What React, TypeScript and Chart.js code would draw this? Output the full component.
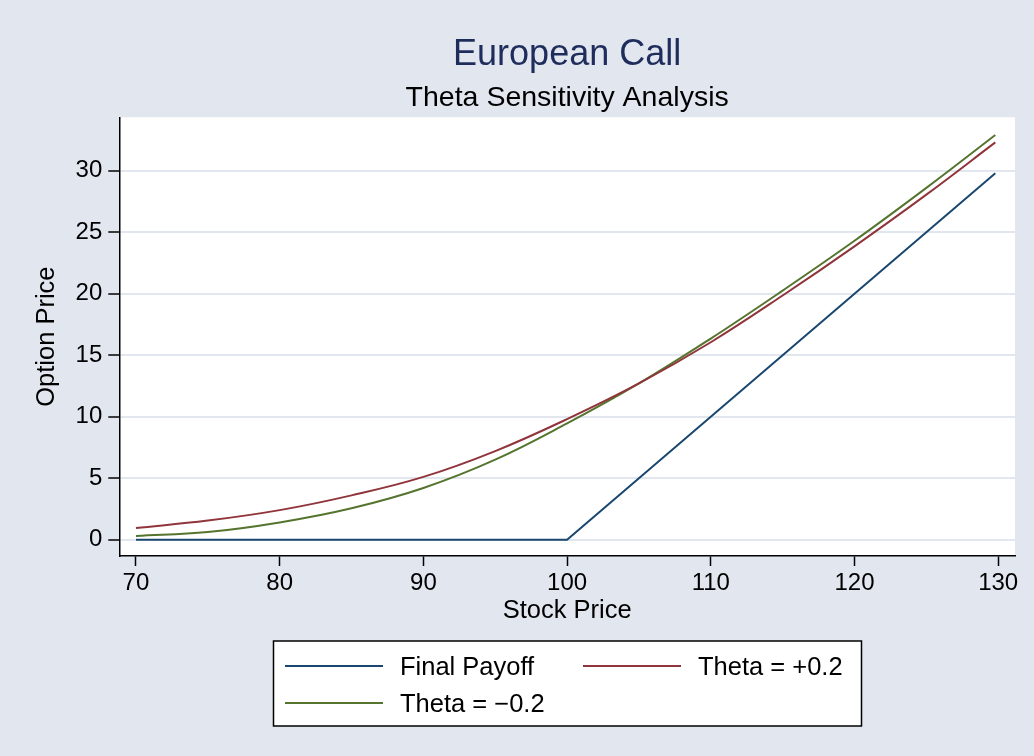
import React, { useEffect, useRef } from "react";
import { Chart, registerables } from "chart.js";

Chart.register(...registerables);

const stockPrices = [70, 75, 80, 85, 90, 95, 100, 105, 110, 115, 120, 125, 129.8];
const finalPayoff = [0, 0, 0, 0, 0, 0, 0, 5, 10, 15, 20, 25, 29.8];
const thetaPlus = [0.95, 1.55, 2.4, 3.6, 5.1, 7.2, 9.8, 12.7, 16.05, 19.85, 23.85, 28.05, 32.3];
const thetaMinus = [0.3, 0.62, 1.4, 2.55, 4.2, 6.5, 9.45, 12.7, 16.35, 20.25, 24.3, 28.6, 32.9];
const xTicks = [70, 80, 90, 100, 110, 120, 130];
const yTicks = [0, 5, 10, 15, 20, 25, 30];
const seriesLabels = ["Final Payoff", "Theta = +0.2", "Theta = \u22120.2"];
const titleText = "European Call";
const subtitleText = "Theta Sensitivity Analysis";
const xTitle = "Stock Price";
const yTitle = "Option Price";

const FONT = "'Liberation Sans', Arial, Helvetica, sans-serif";
const BG = "#e1e6ef";
const NAVY = "#1a476f";
const MAROON = "#90353b";
const GREEN = "#55752f";

const decorPlugin = {
  id: "decor",
  beforeDraw(chart: any) {
    const { ctx, width, height, chartArea } = chart;
    ctx.save();
    ctx.fillStyle = BG;
    ctx.fillRect(0, 0, width, height);
    ctx.fillStyle = "#ffffff";
    ctx.fillRect(chartArea.left, chartArea.top, chartArea.right - chartArea.left, chartArea.bottom - chartArea.top);
    ctx.restore();
  },
  afterDraw(chart: any) {
    const { ctx, chartArea } = chart;
    const cx = (chartArea.left + chartArea.right) / 2;
    ctx.save();
    ctx.textAlign = "center";
    ctx.textBaseline = "alphabetic";
    ctx.fillStyle = "#1e2d5c";
    ctx.font = `36px ${FONT}`;
    ctx.fillText(titleText, cx, 65);
    ctx.fillStyle = "#000000";
    ctx.font = `28.5px ${FONT}`;
    ctx.fillText(subtitleText, cx, 105.5);

    // legend box
    const bx = 273.5, by = 641, bw = 588, bh = 85;
    ctx.fillStyle = "#ffffff";
    ctx.fillRect(bx, by, bw, bh);
    ctx.strokeStyle = "#000000";
    ctx.lineWidth = 1.5;
    ctx.strokeRect(bx, by, bw, bh);

    const items = [
      { label: seriesLabels[0], color: NAVY, lx: 285, tx: 400, y: 666 },
      { label: seriesLabels[1], color: MAROON, lx: 583, tx: 698, y: 666 },
      { label: seriesLabels[2], color: GREEN, lx: 285, tx: 400, y: 703 },
    ];
    ctx.font = `25.5px ${FONT}`;
    ctx.textAlign = "left";
    ctx.textBaseline = "alphabetic";
    for (const it of items) {
      ctx.strokeStyle = it.color;
      ctx.lineWidth = 2;
      ctx.beginPath();
      ctx.moveTo(it.lx, it.y);
      ctx.lineTo(it.lx + 98, it.y);
      ctx.stroke();
      ctx.fillStyle = "#000000";
      ctx.fillText(it.label, it.tx, it.y + 9);
    }
    ctx.restore();
  },
};

export default function App() {
  const ref = useRef<HTMLCanvasElement | null>(null);
  useEffect(() => {
    document.body.style.margin = "0";
    const canvas = ref.current!;
    const toPts = (ys: number[]) => stockPrices.map((x, i) => ({ x, y: ys[i] }));
    const chart = new Chart(canvas, {
      type: "line",
      data: {
        datasets: [
          {
            label: seriesLabels[0],
            data: toPts(finalPayoff),
            borderColor: NAVY,
            borderWidth: 2,
            pointRadius: 0,
            tension: 0,
          },
          {
            label: seriesLabels[1],
            data: toPts(thetaPlus),
            borderColor: MAROON,
            borderWidth: 2,
            pointRadius: 0,
            tension: 0.4,
          },
          {
            label: seriesLabels[2],
            data: toPts(thetaMinus),
            borderColor: GREEN,
            borderWidth: 2,
            pointRadius: 0,
            tension: 0.4,
          },
        ],
      },
      options: {
        responsive: false,
        animation: false,
        devicePixelRatio: 1,
        layout: { padding: { top: 117.3, left: 0, right: 19, bottom: 130 } },
        plugins: {
          legend: { display: false },
          title: { display: false },
          tooltip: { enabled: false },
        },
        scales: {
          x: {
            type: "linear",
            min: 68.84,
            max: 131.17,
            afterBuildTicks: (s: any) => {
              s.ticks = xTicks.map((v) => ({ value: v }));
            },
            afterFit: (s: any) => {
              s.height = 70;
            },
            grid: {
              drawOnChartArea: false,
              drawTicks: true,
              tickLength: 10,
              tickColor: "#000000",
              tickWidth: 1.5,
            },
            border: { display: true, color: "#000000", width: 1.5 },
            ticks: {
              color: "#000000",
              font: { family: FONT, size: 24 },
              padding: 3,
              maxRotation: 0,
              autoSkip: false,
            },
            title: {
              display: true,
              text: xTitle,
              color: "#000000",
              font: { family: FONT, size: 25.5 },
              padding: { top: 0, bottom: 0 },
            },
          },
          y: {
            type: "linear",
            min: -1.33,
            max: 34.34,
            afterBuildTicks: (s: any) => {
              s.ticks = yTicks.map((v) => ({ value: v }));
            },
            afterFit: (s: any) => {
              s.width = 119.3;
            },
            grid: {
              drawOnChartArea: true,
              color: "#e1e6ef",
              lineWidth: 2,
              drawTicks: true,
              tickLength: 11,
              tickColor: "#000000",
              tickWidth: 1.5,
            },
            border: { display: true, color: "#000000", width: 1.5 },
            ticks: {
              color: "#000000",
              font: { family: FONT, size: 24 },
              padding: 6,
              autoSkip: false,
            },
            title: {
              display: true,
              text: yTitle,
              color: "#000000",
              font: { family: FONT, size: 25.5 },
              padding: { top: 32, bottom: 0 },
            },
          },
        },
      },
      plugins: [decorPlugin],
    });
    return () => chart.destroy();
  }, []);
  return <canvas ref={ref} width={1034} height={756} style={{ display: "block", width: 1034, height: 756 }} />;
}
